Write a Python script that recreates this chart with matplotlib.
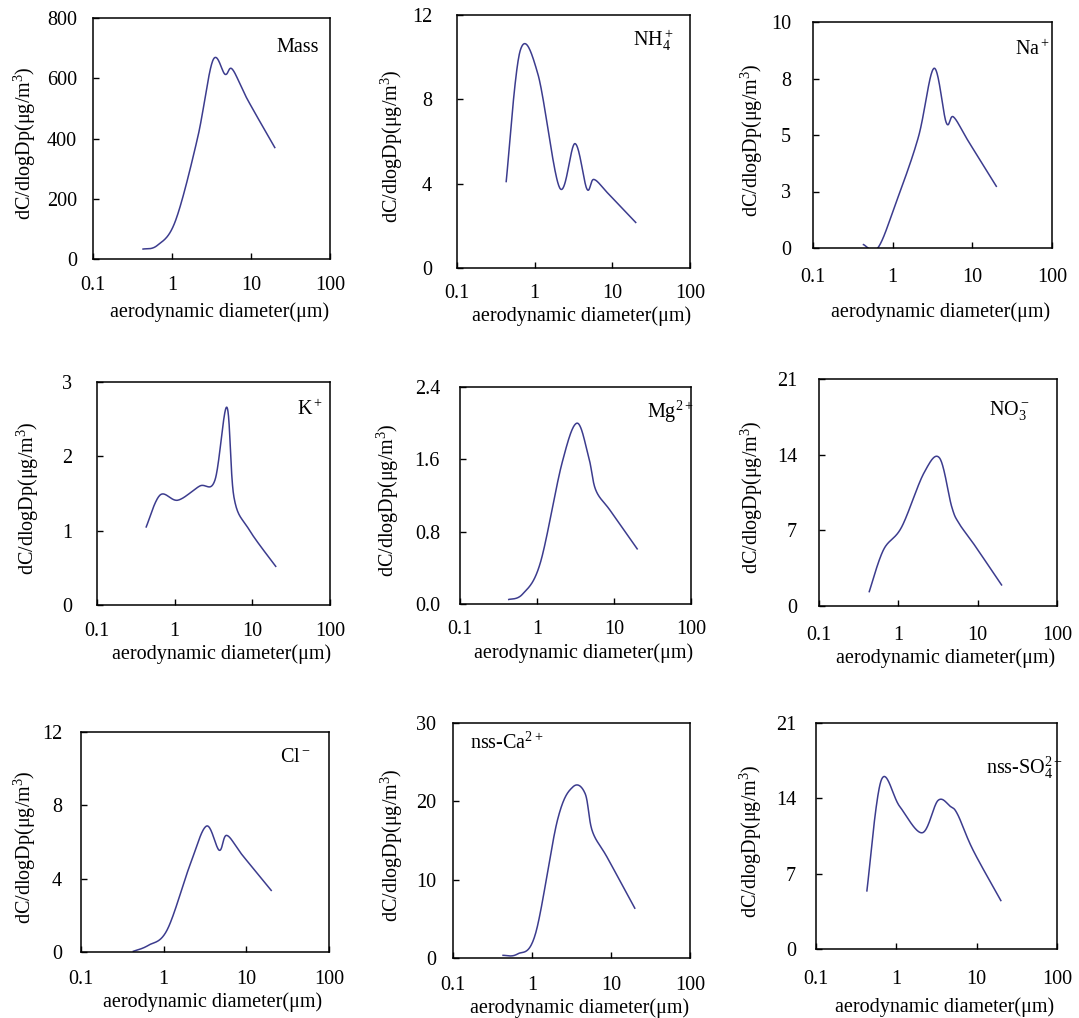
import numpy as np
import matplotlib
matplotlib.use('Agg')
import matplotlib.pyplot as plt
from matplotlib.ticker import FixedLocator, FixedFormatter, NullLocator

plt.rcParams['font.family'] = ['Liberation Serif', 'DejaVu Serif']
plt.rcParams['mathtext.fontset'] = 'custom'
plt.rcParams['mathtext.rm'] = 'Liberation Serif'
plt.rcParams['mathtext.it'] = 'Liberation Serif:italic'

# stage diameters (um)
dp = [0.43, 0.65, 1.1, 2.1, 3.3, 4.7, 5.8, 9.0, 20.0]

# dC/dlogDp per species
mass = [33, 45, 125, 400, 660, 613, 630, 530, 370]
nh4 = [4.1, 10.3, 9.2, 3.8, 5.9, 3.75, 4.2, 3.5, 2.16]
na = [0.15, 0.0, 2.0, 4.9, 7.95, 5.55, 5.8, 4.7, 2.73]
k = [1.05, 1.48, 1.41, 1.6, 1.68, 2.66, 1.45, 1.02, 0.52]
mg = [0.05, 0.11, 0.45, 1.55, 2.0, 1.62, 1.26, 1.03, 0.61]
no3 = [1.33, 5.2, 7.3, 12.3, 13.7, 9.2, 7.66, 5.7, 1.95]
cl = [0.04, 0.36, 1.2, 4.8, 6.87, 5.55, 6.36, 5.27, 3.36]
ca = [0.34, 0.5, 3.0, 17.6, 21.85, 21.0, 16.2, 12.8, 6.36]
so4 = [5.4, 15.7, 13.25, 10.8, 13.8, 13.25, 12.5, 9.2, 4.5]

series = [mass, nh4, na, k, mg, no3, cl, ca, so4]
names = ['Mass', r'NH$_4^+$', r'Na$^+$', r'K$^+$', r'Mg$^{2+}$',
         r'NO$_3^-$', r'Cl$^-$', r'nss-Ca$^{2+}$', r'nss-SO$_4^{2-}$']
yticks = [[0, 200, 400, 600, 800], [0, 4, 8, 12], [0, 2.5, 5, 7.5, 10],
          [0, 1, 2, 3], [0, 0.8, 1.6, 2.4], [0, 7, 14, 21],
          [0, 4, 8, 12], [0, 10, 20, 30], [0, 7, 14, 21]]
ylabels = [['0', '200', '400', '600', '800'], ['0', '4', '8', '12'],
           ['0', '3', '5', '8', '10'], ['0', '1', '2', '3'],
           ['0.0', '0.8', '1.6', '2.4'], ['0', '7', '14', '21'],
           ['0', '4', '8', '12'], ['0', '10', '20', '30'], ['0', '7', '14', '21']]
xticks = [0.1, 1, 10, 100]
xticklabels = ['0.1', '1', '10', '100']

W, H = 1079, 1018
# axes box (left, top, right, bottom) in pixels, y tick gap, x tick offset,
# y label x, x label centre y, name position
layout = [
    ((93, 18, 330, 259), 16, 26, 25, 312, (298, 47)),
    ((457, 15, 690, 268), 25, 25, 392, 316, (653, 40)),
    ((813, 22, 1052, 248), 22, 30, 752, 312, (1032, 50)),
    ((97, 382, 330, 605), 25, 26, 28, 654, (310, 410)),
    ((460, 387, 691, 604), 20, 25, 388, 653, (670, 412)),
    ((819, 379, 1057, 606), 22, 29, 752, 658, (1009, 410)),
    ((81, 732, 329, 952), 19, 27, 25, 1002, (295, 757)),
    ((453, 723, 690, 958), 17, 27, 392, 1008, (507, 743)),
    ((816, 723, 1057, 949), 20, 30, 751, 1007, (1024, 768)),
]

line_color = '#3c3c8e'
fs = 14.5


def smooth(ax, x, y, n=40):
    # cubic Bezier through the points, tangents from neighbours (screen space)
    pts = ax.transData.transform(np.column_stack([x, y]))
    P = np.vstack([pts[0], pts, pts[-1]])
    t = np.linspace(0, 1, n)[:, None]
    out = []
    for i in range(1, len(P) - 2):
        p0, p1, p2, p3 = P[i - 1], P[i], P[i + 1], P[i + 2]
        c1 = p1 + (p2 - p0) / 6
        c2 = p2 - (p3 - p1) / 6
        seg = (1 - t) ** 3 * p1 + 3 * (1 - t) ** 2 * t * c1 + 3 * (1 - t) * t ** 2 * c2 + t ** 3 * p2
        out.append(seg if i == 1 else seg[1:])
    return ax.transData.inverted().transform(np.vstack(out))


fig = plt.figure(figsize=(W / 100, H / 100), dpi=100)

for i, vals in enumerate(series):
    (l, t, r, b), ygap, xoff, ylx, xly, (nx, ny) = layout[i]
    ax = fig.add_axes([l / W, 1 - b / H, (r - l) / W, (b - t) / H])
    ax.set_facecolor('none')
    ax.set_xscale('log')
    ax.set_xlim(0.1, 100)
    ax.set_ylim(yticks[i][0], yticks[i][-1])
    ax.xaxis.set_major_locator(FixedLocator(xticks))
    ax.xaxis.set_major_formatter(FixedFormatter(xticklabels))
    ax.xaxis.set_minor_locator(NullLocator())
    ax.yaxis.set_major_locator(FixedLocator(yticks[i]))
    ax.yaxis.set_major_formatter(FixedFormatter(ylabels[i]))
    ax.tick_params(direction='in', length=4, width=1, labelsize=fs, color='black')
    ax.tick_params(axis='y', pad=ygap * 0.72)
    ax.tick_params(axis='x', pad=xoff * 0.72)
    for lab in ax.get_xticklabels():
        lab.set_verticalalignment('center')
    for sp in ax.spines.values():
        sp.set_linewidth(1.1)

    curve = smooth(ax, dp, vals)
    ax.plot(curve[:, 0], curve[:, 1], color=line_color, lw=1.1)

    fig.text(nx / W, 1 - ny / H, names[i], fontsize=fs, ha='center', va='center')
    fig.text(ylx / W, 1 - ((t + b) / 2 + 5) / H, r'dC/dlogDp(μg/m$^3$)', fontsize=fs,
             rotation=90, ha='center', va='center')
    fig.text(((l + r) / 2 + 8) / W, 1 - xly / H, 'aerodynamic diameter(μm)', fontsize=fs,
             ha='center', va='center')

fig.savefig('out.png', dpi=100)
